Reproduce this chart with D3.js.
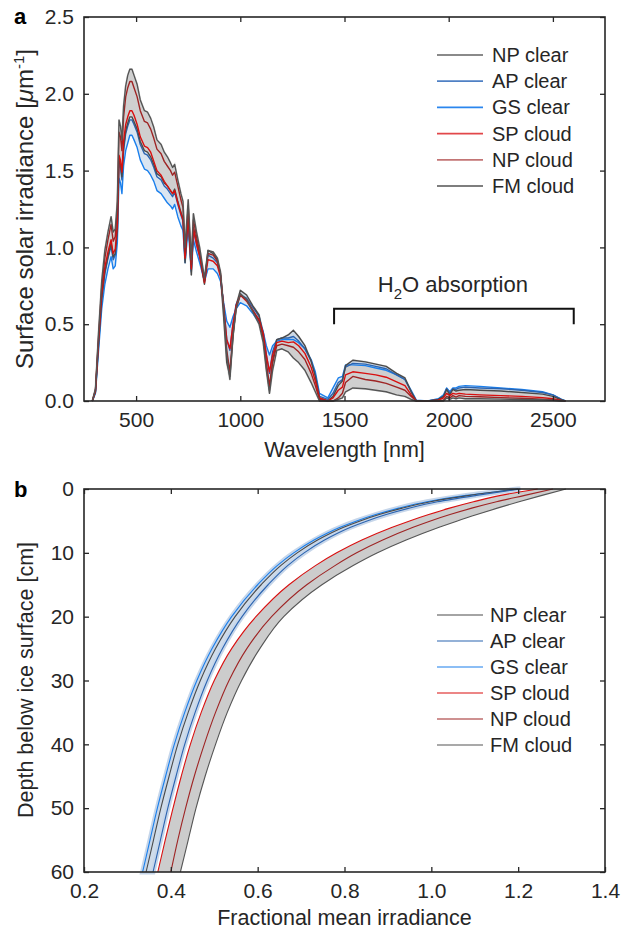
<!DOCTYPE html>
<html>
<head>
  <meta charset="UTF-8" />
  <title>Surface solar irradiance and fractional mean irradiance</title>
  <script src="https://cdnjs.cloudflare.com/ajax/libs/d3/7.8.5/d3.min.js"></script>
  <style>
    body { margin: 0; background: #fff; }
    svg { font-family: 'Liberation Sans', Arial, sans-serif; }
    .axis text { font-size: 21px; fill: #262626; }
    .axis .domain { display: none; }
    .axis line { stroke: #262626; stroke-width: 1.3; }
    .frame { fill: none; stroke: #262626; stroke-width: 1.6; }
    .lab { font-size: 21.5px; fill: #262626; }
    .leg { font-size: 20px; fill: #262626; }
  </style>
</head>
<body>
<svg width="621" height="937"></svg>
<script>
  // ---- data, panel a (spectra) ----
  const wavelength = [290, 305, 320, 335, 350, 365, 380, 390, 400, 410,
    418, 425, 432, 440, 450, 460, 470, 480, 490, 505,
    520, 540, 555, 570, 585, 600, 620, 635, 650, 665,
    675, 685, 700, 715, 725, 735, 750, 765, 775, 790,
    805, 828, 845, 870, 890, 905, 920, 935, 950, 965,
    980, 1000, 1030, 1060, 1090, 1110, 1125, 1140, 1155, 1175,
    1200, 1230, 1255, 1280, 1310, 1340, 1360, 1380, 1420, 1445,
    1470, 1490, 1505, 1540, 1600, 1650, 1700, 1750, 1790, 1820,
    1845, 1900, 1950, 1975, 1990, 2005, 2020, 2035, 2050, 2080,
    2150, 2250, 2350, 2450, 2500, 2540, 2560];

  const specNPclear = [0, 0.06, 0.38, 0.67, 0.84, 0.94, 1.03, 0.94, 0.96, 1.12,
    1.57, 1.54, 1.46, 1.65, 1.76, 1.81, 1.85, 1.85, 1.82, 1.77,
    1.69, 1.63, 1.62, 1.59, 1.54, 1.48, 1.46, 1.42, 1.40, 1.37,
    1.35, 1.38, 1.30, 1.23, 1.19, 0.90, 1.22, 0.82, 1.13, 1.04,
    0.96, 0.76, 0.98, 0.96, 0.92, 0.82, 0.55, 0.25, 0.16, 0.42,
    0.62, 0.72, 0.69, 0.62, 0.56, 0.42, 0.22, 0.07, 0.26, 0.40,
    0.41, 0.43, 0.46, 0.42, 0.36, 0.26, 0.16, 0.02, 0.0, 0.03,
    0.10, 0.13, 0.23, 0.265, 0.255, 0.24, 0.225, 0.18, 0.15, 0.06,
    0, 0, 0.01, 0.03, 0.075, 0.04, 0.075, 0.065, 0.07, 0.075,
    0.07, 0.065, 0.055, 0.045, 0.03, 0.008, 0];
  const specAPclear = [0, 0.06, 0.37, 0.66, 0.83, 0.93, 1.01, 0.92, 0.95, 1.10,
    1.55, 1.52, 1.44, 1.63, 1.74, 1.79, 1.83, 1.83, 1.80, 1.75,
    1.67, 1.61, 1.60, 1.57, 1.52, 1.46, 1.44, 1.40, 1.38, 1.35,
    1.33, 1.36, 1.28, 1.21, 1.17, 0.92, 1.20, 0.84, 1.11, 1.02,
    0.94, 0.78, 0.95, 0.93, 0.90, 0.82, 0.62, 0.40, 0.33, 0.50,
    0.63, 0.69, 0.67, 0.61, 0.55, 0.45, 0.30, 0.18, 0.32, 0.40,
    0.41, 0.41, 0.42, 0.39, 0.34, 0.26, 0.17, 0.03, 0.01, 0.05,
    0.12, 0.14, 0.22, 0.245, 0.24, 0.225, 0.21, 0.17, 0.14, 0.06,
    0, 0, 0.01, 0.03, 0.08, 0.05, 0.08, 0.075, 0.085, 0.09,
    0.085, 0.08, 0.07, 0.055, 0.04, 0.01, 0];
  const specGSclear = [0, 0.05, 0.33, 0.60, 0.76, 0.86, 0.94, 0.86, 0.88, 1.03,
    1.45, 1.42, 1.35, 1.53, 1.63, 1.68, 1.73, 1.73, 1.70, 1.65,
    1.57, 1.51, 1.50, 1.47, 1.43, 1.37, 1.35, 1.32, 1.29, 1.27,
    1.25, 1.28, 1.20, 1.14, 1.11, 0.90, 1.13, 0.85, 1.05, 0.97,
    0.90, 0.78, 0.86, 0.86, 0.83, 0.78, 0.64, 0.52, 0.48, 0.55,
    0.60, 0.64, 0.62, 0.57, 0.51, 0.45, 0.36, 0.30, 0.36, 0.39,
    0.40, 0.40, 0.40, 0.38, 0.34, 0.27, 0.19, 0.05, 0.02, 0.085,
    0.15, 0.16, 0.235, 0.235, 0.23, 0.215, 0.20, 0.17, 0.14, 0.07,
    0.005, 0, 0.015, 0.04, 0.085, 0.06, 0.085, 0.085, 0.095, 0.10,
    0.095, 0.085, 0.075, 0.06, 0.04, 0.012, 0];
  const specSPcloud = [0, 0.07, 0.40, 0.70, 0.87, 0.97, 1.05, 0.96, 0.99, 1.15,
    1.60, 1.57, 1.49, 1.69, 1.80, 1.85, 1.89, 1.89, 1.86, 1.80,
    1.72, 1.66, 1.65, 1.62, 1.56, 1.50, 1.47, 1.43, 1.40, 1.37,
    1.35, 1.37, 1.29, 1.22, 1.18, 0.93, 1.20, 0.86, 1.12, 1.02,
    0.94, 0.77, 0.92, 0.91, 0.88, 0.81, 0.62, 0.40, 0.34, 0.50,
    0.62, 0.69, 0.65, 0.59, 0.53, 0.44, 0.30, 0.19, 0.30, 0.38,
    0.39, 0.38, 0.385, 0.36, 0.31, 0.22, 0.13, 0.02, 0.0, 0.02,
    0.07, 0.09, 0.17, 0.19, 0.18, 0.17, 0.155, 0.125, 0.10, 0.04,
    0, 0, 0.005, 0.02, 0.05, 0.035, 0.05, 0.045, 0.05, 0.045,
    0.04, 0.035, 0.03, 0.022, 0.015, 0.004, 0];
  const specNPcloud = [0, 0.07, 0.42, 0.74, 0.93, 1.05, 1.15, 1.04, 1.07, 1.25,
    1.75, 1.72, 1.63, 1.85, 1.98, 2.04, 2.08, 2.08, 2.04, 1.98,
    1.89, 1.82, 1.81, 1.77, 1.71, 1.64, 1.61, 1.56, 1.53, 1.50,
    1.47, 1.49, 1.40, 1.31, 1.26, 0.97, 1.27, 0.89, 1.18, 1.07,
    0.97, 0.78, 0.96, 0.95, 0.91, 0.83, 0.61, 0.33, 0.19, 0.44,
    0.60, 0.69, 0.66, 0.59, 0.52, 0.41, 0.25, 0.10, 0.25, 0.36,
    0.37, 0.36, 0.35, 0.32, 0.27, 0.18, 0.10, 0.01, 0.0, 0.0,
    0.02, 0.05, 0.12, 0.16, 0.14, 0.13, 0.115, 0.09, 0.07, 0.03,
    0, 0, 0, 0.005, 0.03, 0.02, 0.035, 0.025, 0.035, 0.03,
    0.028, 0.022, 0.018, 0.012, 0.008, 0.002, 0];
  const specFMcloud = [0, 0.08, 0.45, 0.78, 0.98, 1.10, 1.20, 1.10, 1.12, 1.30,
    1.83, 1.79, 1.70, 1.92, 2.05, 2.12, 2.16, 2.16, 2.12, 2.06,
    1.96, 1.89, 1.88, 1.84, 1.78, 1.70, 1.67, 1.62, 1.59, 1.55,
    1.52, 1.54, 1.44, 1.35, 1.30, 1.00, 1.31, 0.92, 1.22, 1.10,
    1.00, 0.80, 0.98, 0.97, 0.93, 0.84, 0.60, 0.30, 0.14, 0.42,
    0.60, 0.70, 0.66, 0.58, 0.50, 0.38, 0.20, 0.05, 0.20, 0.33,
    0.34, 0.32, 0.28, 0.25, 0.20, 0.12, 0.06, 0.0, 0.0, 0.0,
    0.01, 0.02, 0.06, 0.085, 0.08, 0.07, 0.06, 0.04, 0.03, 0.01,
    0, 0, 0, 0, 0.02, 0.01, 0.02, 0.015, 0.02, 0.015,
    0.015, 0.012, 0.01, 0.008, 0.005, 0, 0];

  // ---- data, panel b (depth profiles) ----
  const depth = [0, 1, 2, 3, 4, 5, 6, 8, 10, 12, 15, 20, 25, 30, 35, 40, 45, 50, 55, 60];
  const profNPclear = [1.200, 1.088, 0.998, 0.933, 0.880, 0.836, 0.798, 0.738, 0.691, 0.653, 0.608, 0.548, 0.503, 0.468, 0.440, 0.416, 0.396, 0.377, 0.360, 0.343];
  const profAPclear = [1.205, 1.104, 1.014, 0.949, 0.896, 0.852, 0.814, 0.754, 0.707, 0.669, 0.624, 0.564, 0.519, 0.484, 0.456, 0.432, 0.412, 0.393, 0.376, 0.359];
  const profGSclear = [1.200, 1.080, 0.990, 0.925, 0.872, 0.828, 0.790, 0.730, 0.683, 0.645, 0.600, 0.540, 0.495, 0.460, 0.432, 0.408, 0.388, 0.369, 0.352, 0.335];
  const profSPcloud = [1.245, 1.160, 1.097, 1.042, 0.994, 0.950, 0.910, 0.840, 0.782, 0.733, 0.672, 0.596, 0.540, 0.500, 0.470, 0.445, 0.424, 0.405, 0.387, 0.370];
  const profNPcloud = [1.280, 1.215, 1.150, 1.093, 1.043, 0.998, 0.958, 0.888, 0.828, 0.778, 0.713, 0.632, 0.575, 0.534, 0.503, 0.477, 0.454, 0.434, 0.416, 0.400];
  const profFMcloud = [1.310, 1.255, 1.202, 1.152, 1.105, 1.060, 1.018, 0.942, 0.876, 0.820, 0.748, 0.660, 0.605, 0.563, 0.530, 0.503, 0.479, 0.458, 0.440, 0.422];

  const seriesNames = ['NP clear', 'AP clear', 'GS clear', 'SP cloud', 'NP cloud', 'FM cloud'];
  const spectra = [specNPclear, specAPclear, specGSclear, specSPcloud, specNPcloud, specFMcloud];
  const profiles = [profNPclear, profAPclear, profGSclear, profSPcloud, profNPcloud, profFMcloud];
  const lineColors = ['#4a4a4a', '#2b64b0', '#1a7fec', '#d90f0f', '#9e2424', '#555555'];
  const legendColorsA = ['#8a8a8a', '#4f80c4', '#2b86ee', '#e2474a', '#c37575', '#7e7e7e'];

  const xTicksA = [500, 1000, 1500, 2000, 2500];
  const yTicksA = [0, 0.5, 1.0, 1.5, 2.0, 2.5];
  const xTicksB = [0.2, 0.4, 0.6, 0.8, 1.0, 1.2, 1.4];
  const yTicksB = [0, 10, 20, 30, 40, 50, 60];

  const svg = d3.select('svg');
  const left = 84, right = 605;

  // helper: boxed axes with inward ticks on all four sides
  function drawAxes(g, x, y, xt, yt, xfmt, yfmt) {
    const [y0, y1] = y.range();
    const top = Math.min(y0, y1), bottom = Math.max(y0, y1);
    g.append('g').attr('class', 'axis').attr('transform', `translate(0,${bottom})`)
      .call(d3.axisBottom(x).tickValues(xt).tickFormat(xfmt).tickSizeInner(-5).tickSizeOuter(0).tickPadding(11));
    g.append('g').attr('class', 'axis').attr('transform', `translate(0,${top})`)
      .call(d3.axisTop(x).tickValues(xt).tickFormat('').tickSizeInner(-5).tickSizeOuter(0));
    g.append('g').attr('class', 'axis').attr('transform', `translate(${left},0)`)
      .call(d3.axisLeft(y).tickValues(yt).tickFormat(yfmt).tickSizeInner(-5).tickSizeOuter(0).tickPadding(10));
    g.append('g').attr('class', 'axis').attr('transform', `translate(${right},0)`)
      .call(d3.axisRight(y).tickValues(yt).tickFormat('').tickSizeInner(-5).tickSizeOuter(0));
    g.append('rect').attr('class', 'frame')
      .attr('x', left).attr('y', top).attr('width', right - left).attr('height', bottom - top);
  }

  // ================= panel a =================
  const xA = d3.scaleLinear().domain([250, 2750]).range([left, right]);
  const yA = d3.scaleLinear().domain([0, 2.5]).range([401, 17]);
  const gA = svg.append('g');

  const grayIdx = [0, 3, 4, 5], blueIdx = [0, 1, 2];
  const bandA = idx => d3.area()
    .x((d, i) => xA(wavelength[i]))
    .y0((d, i) => yA(d3.min(idx, k => spectra[k][i])))
    .y1((d, i) => yA(d3.max(idx, k => spectra[k][i])));

  gA.append('path').datum(wavelength).attr('d', bandA(grayIdx))
    .attr('fill', '#cfcfcf').attr('stroke', '#dcdcdc').attr('stroke-width', 2);
  gA.append('path').datum(wavelength).attr('d', bandA(blueIdx))
    .attr('fill', '#cddcec').attr('fill-opacity', 0.75);

  const lineA = d3.line().x((d, i) => xA(wavelength[i])).y(d => yA(d));
  [2, 1, 0, 3, 4, 5].forEach(k => {
    gA.append('path').datum(spectra[k]).attr('d', lineA)
      .attr('fill', 'none').attr('stroke', lineColors[k]).attr('stroke-width', 1.4)
      .attr('stroke-linejoin', 'round');
  });

  drawAxes(gA, xA, yA, xTicksA, yTicksA, d3.format('d'), d3.format('.1f'));

  // H2O absorption bracket
  const br = [[1450, 0.5], [1450, 0.6], [2600, 0.6], [2600, 0.5]];
  gA.append('path').attr('d', d3.line().x(d => xA(d[0])).y(d => yA(d[1]))(br))
    .attr('fill', 'none').attr('stroke', '#111').attr('stroke-width', 2);
  const h2o = gA.append('text').attr('class', 'lab').attr('x', xA(2020)).attr('y', yA(0.71))
    .attr('text-anchor', 'middle').style('font-size', '22px');
  h2o.append('tspan').text('H');
  h2o.append('tspan').attr('dy', 7).style('font-size', '15px').text('2');
  h2o.append('tspan').attr('dy', -7).text('O absorption');

  // legend a
  seriesNames.forEach((n, k) => {
    const ly = 55 + k * 26.2;
    gA.append('line').attr('x1', 437).attr('x2', 483).attr('y1', ly).attr('y2', ly)
      .attr('stroke', legendColorsA[k]).attr('stroke-width', 1.8);
    gA.append('text').attr('class', 'leg').attr('x', 492).attr('y', ly + 7).text(n);
  });

  // titles a
  gA.append('text').attr('class', 'lab').attr('x', xA(1500)).attr('y', 457)
    .attr('text-anchor', 'middle').text('Wavelength [nm]');
  const ytA = gA.append('text').attr('class', 'lab').attr('text-anchor', 'middle')
    .style('font-size', '24px').attr('transform', 'translate(33,209) rotate(-90)');
  ytA.append('tspan').text('Surface solar irradiance [');
  ytA.append('tspan').style('font-style', 'italic').text('\u03bc');
  ytA.append('tspan').text('m');
  ytA.append('tspan').attr('dy', -9).style('font-size', '15px').text('-1');
  ytA.append('tspan').attr('dy', 9).text(']');
  svg.append('text').attr('x', 14).attr('y', 24).style('font-size', '22px')
    .style('font-weight', 'bold').attr('fill', '#000').text('a');

  // ================= panel b =================
  const xB = d3.scaleLinear().domain([0.2, 1.4]).range([left, right]);
  const yB = d3.scaleLinear().domain([0, 60]).range([489, 872]);
  const gB = svg.append('g');

  const clearIdx = [0, 1, 2], cloudIdx = [3, 4, 5];
  const bandB = idx => d3.area().curve(d3.curveMonotoneY)
    .y((d, i) => yB(depth[i]))
    .x0((d, i) => xB(d3.min(idx, k => profiles[k][i])))
    .x1((d, i) => xB(d3.max(idx, k => profiles[k][i])));

  gB.append('path').datum(depth).attr('d', bandB(clearIdx))
    .attr('fill', '#cfdcea').attr('stroke', '#c6d6ea').attr('stroke-width', 5);
  gB.append('path').datum(depth).attr('d', bandB(cloudIdx))
    .attr('fill', '#cccccc');

  const lineB = d3.line().curve(d3.curveMonotoneY)
    .x(d => xB(d)).y((d, i) => yB(depth[i]));
  [2, 0, 1, 3, 4, 5].forEach(k => {
    gB.append('path').datum(profiles[k]).attr('d', lineB)
      .attr('fill', 'none').attr('stroke', lineColors[k]).attr('stroke-width', 1.1);
  });

  drawAxes(gB, xB, yB, xTicksB, yTicksB, d3.format('.1f'), d3.format('d'));

  // legend b
  seriesNames.forEach((n, k) => {
    const ly = 615 + k * 26;
    gB.append('line').attr('x1', 437).attr('x2', 483).attr('y1', ly).attr('y2', ly)
      .attr('stroke', lineColors[k]).attr('stroke-width', 1.1);
    gB.append('text').attr('class', 'leg').attr('x', 490).attr('y', ly + 7).text(n);
  });

  gB.append('text').attr('class', 'lab').attr('x', xB(0.8)).attr('y', 925)
    .attr('text-anchor', 'middle').text('Fractional mean irradiance');
  gB.append('text').attr('class', 'lab').attr('text-anchor', 'middle')
    .attr('transform', 'translate(33,680) rotate(-90)').text('Depth below ice surface [cm]');
  svg.append('text').attr('x', 14).attr('y', 497).style('font-size', '22px')
    .style('font-weight', 'bold').attr('fill', '#000').text('b');
</script>
</body>
</html>
